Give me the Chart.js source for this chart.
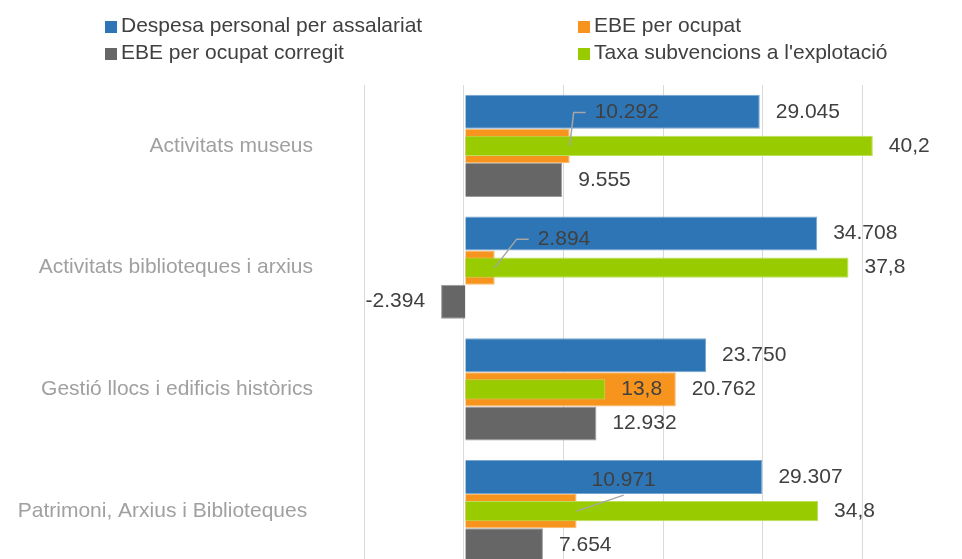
<!DOCTYPE html>
<html>
<head>
<meta charset="utf-8">
<title>Despesa i EBE per activitat</title>
<script src="https://cdn.jsdelivr.net/npm/chart.js@4.4.0/dist/chart.umd.min.js"></script>
<style>
    html, body { margin: 0; padding: 0; background: #fff; overflow: hidden; }
    #chart-box { position: relative; width: 962px; height: 572px; }
</style>
</head>
<body>
<div id="chart-box"><canvas id="activitatsChart"></canvas></div>
<script>
const FONT = '"Liberation Sans", Arial, sans-serif'

// Categories (last one keeps its trailing space)
const categories = [
    'Activitats museus',
    'Activitats biblioteques i arxius',
    'Gestió llocs i edificis històrics',
    'Patrimoni, Arxius i Biblioteques '
]

// Values in euros
const despesaPersonal = [29045, 34708, 23750, 29307]
const ebeOcupat = [10292, 2894, 20762, 10971]
const ebeCorregit = [9555, -2394, 12932, 7654]
// Subsidy rate, in %
const taxaSubvencions = [40.2, 37.8, 13.8, 34.8]

// Axis ranges: euros and % share the same gridlines (10.000 € <-> 10 %)
const euroRange = [-10000, 49000]
const rateRange = [-10, 49]

// EBE per ocupat labels moved above the bar, with a leader line
// dx/dy = label left / label middle relative to the bar end
const ebeCallouts = {
    0: {dx: 25, dy: -33.5, elbow: true},
    1: {dx: 43, dy: -28.5, elbow: true},
    3: {dx: 15, dy: -31, elbow: false}
}

// 29045 -> "29.045", 40.2 -> "40,2"
function formatNumber(value, decimals) {
    let sign = value < 0 ? '-' : ''
    let parts = Math.abs(value).toFixed(decimals).split('.')
    let whole = parts[0].replace(/\B(?=(\d{3})+(?!\d))/g, '.')
    return sign + whole + (parts[1] ? ',' + parts[1] : '')
}

// Value labels at the end of each bar
const barLabels = {
    id: 'barLabels',
    afterDatasetsDraw(chart) {
        const ctx = chart.ctx
        ctx.save()
        ctx.font = '21px ' + FONT
        ctx.textBaseline = 'middle'
        chart.data.datasets.forEach((dataset, i) => {
            let meta = chart.getDatasetMeta(i)
            meta.data.forEach((bar, index) => {
                let value = dataset.data[index]
                let text = formatNumber(value, dataset.labelDecimals)
                let callout = dataset.callouts && dataset.callouts[index]
                ctx.fillStyle = '#404040'
                if (callout) {
                    let lx = bar.x + callout.dx
                    let ly = bar.y + callout.dy
                    let w = ctx.measureText(text).width
                    ctx.strokeStyle = '#a6a6a6'
                    ctx.lineWidth = 1.5
                    ctx.beginPath()
                    ctx.moveTo(bar.x, bar.y)
                    if (callout.elbow) {
                        ctx.lineTo(lx - 21, ly)
                        ctx.lineTo(lx - 9, ly)
                    } else {
                        ctx.lineTo(lx + w / 2, ly + 15)
                    }
                    ctx.stroke()
                    ctx.textAlign = 'left'
                    ctx.fillText(text, lx, ly)
                } else if (value < 0) {
                    ctx.textAlign = 'right'
                    ctx.fillText(text, bar.x - 16, bar.y)
                } else {
                    ctx.textAlign = 'left'
                    ctx.fillText(text, bar.x + 16, bar.y)
                }
            })
        })
        ctx.restore()
    }
}

// Two column legend above the plot
const legendGrid = {
    id: 'legendGrid',
    afterDraw(chart) {
        const ctx = chart.ctx
        ctx.save()
        ctx.font = '21px ' + FONT
        ctx.textBaseline = 'middle'
        ctx.textAlign = 'left'
        chart.data.datasets.forEach((dataset, i) => {
            let x = i % 2 == 0 ? 105 : 578
            let y = i < 2 ? 26 : 53
            ctx.fillStyle = dataset.backgroundColor
            ctx.fillRect(x, y - 5, 12, 12)
            ctx.fillStyle = '#404040'
            ctx.fillText(dataset.label, x + 16, y)
        })
        ctx.restore()
    }
}

// Datasets
// stack keys give the slot inside each category: the rate bar shares
// the EBE per ocupat slot; order puts it on top of that bar
const data = {
    labels: categories,
    datasets: [{
        label: 'Despesa personal per assalariat',
        data: despesaPersonal,
        backgroundColor: '#2E75B6',
        borderColor: '#77A5D0',
        stack: 'slot1',
        order: 0,
        labelDecimals: 0
    },
    {
        label: 'EBE per ocupat',
        data: ebeOcupat,
        backgroundColor: '#F7941D',
        borderColor: '#FAB96C',
        stack: 'slot2',
        order: 2,
        labelDecimals: 0,
        callouts: ebeCallouts
    },
    {
        label: 'EBE per ocupat corregit',
        data: ebeCorregit,
        backgroundColor: '#666666',
        borderColor: '#9B9B9B',
        stack: 'slot3',
        order: 3,
        labelDecimals: 0
    },
    {
        label: "Taxa subvencions a l'explotació",
        data: taxaSubvencions,
        backgroundColor: '#99CC00',
        borderColor: '#BDDE59',
        stack: 'slot2',
        order: 1,
        xAxisID: 'x2',
        barPercentage: 0.59,
        labelDecimals: 1
    }]
}

// Config
const config = {
    type: 'bar',
    data,
    options: {
        indexAxis: 'y',
        responsive: true,
        maintainAspectRatio: false,
        animation: false,
        layout: { padding: { top: 85, right: 0, bottom: 0, left: 0 } },
        datasets: {
            bar: { categoryPercentage: 0.838, barPercentage: 1, borderWidth: 1 }
        },
        plugins: {
            legend: { display: false },
            tooltip: { enabled: false }
        },
        scales: {
            x: {
                min: euroRange[0],
                max: euroRange[1],
                bounds: 'data',
                stacked: false,
                ticks: { display: false, stepSize: 10000, includeBounds: false },
                afterBuildTicks(scale) {
                    scale.ticks = scale.ticks.filter(t => t.value <= scale.max)
                },
                border: { display: false },
                grid: {
                    drawTicks: false,
                    color: c => c.tick && c.tick.value === 0 ? '#a6a6a6' : '#d9d9d9',
                    lineWidth: c => c.tick && c.tick.value === 0 ? 1.5 : 1
                }
            },
            x2: {
                type: 'linear',
                position: 'bottom',
                display: false,
                bounds: 'data',
                stacked: false,
                min: rateRange[0],
                max: rateRange[1]
            },
            y: {
                offset: true,
                grid: { display: false, drawTicks: false },
                border: { display: false },
                ticks: {
                    color: '#a0a0a0',
                    font: { family: FONT, size: 21 },
                    padding: 51
                },
                afterFit(scale) {
                    scale.width = 364
                    scale.paddingTop = 0
                    scale.paddingBottom = 0
                }
            }
        }
    },
    plugins: [barLabels, legendGrid]
}

// Render
const myChart = new Chart(
    document.getElementById('activitatsChart'),
    config
)
</script>
</body>
</html>
